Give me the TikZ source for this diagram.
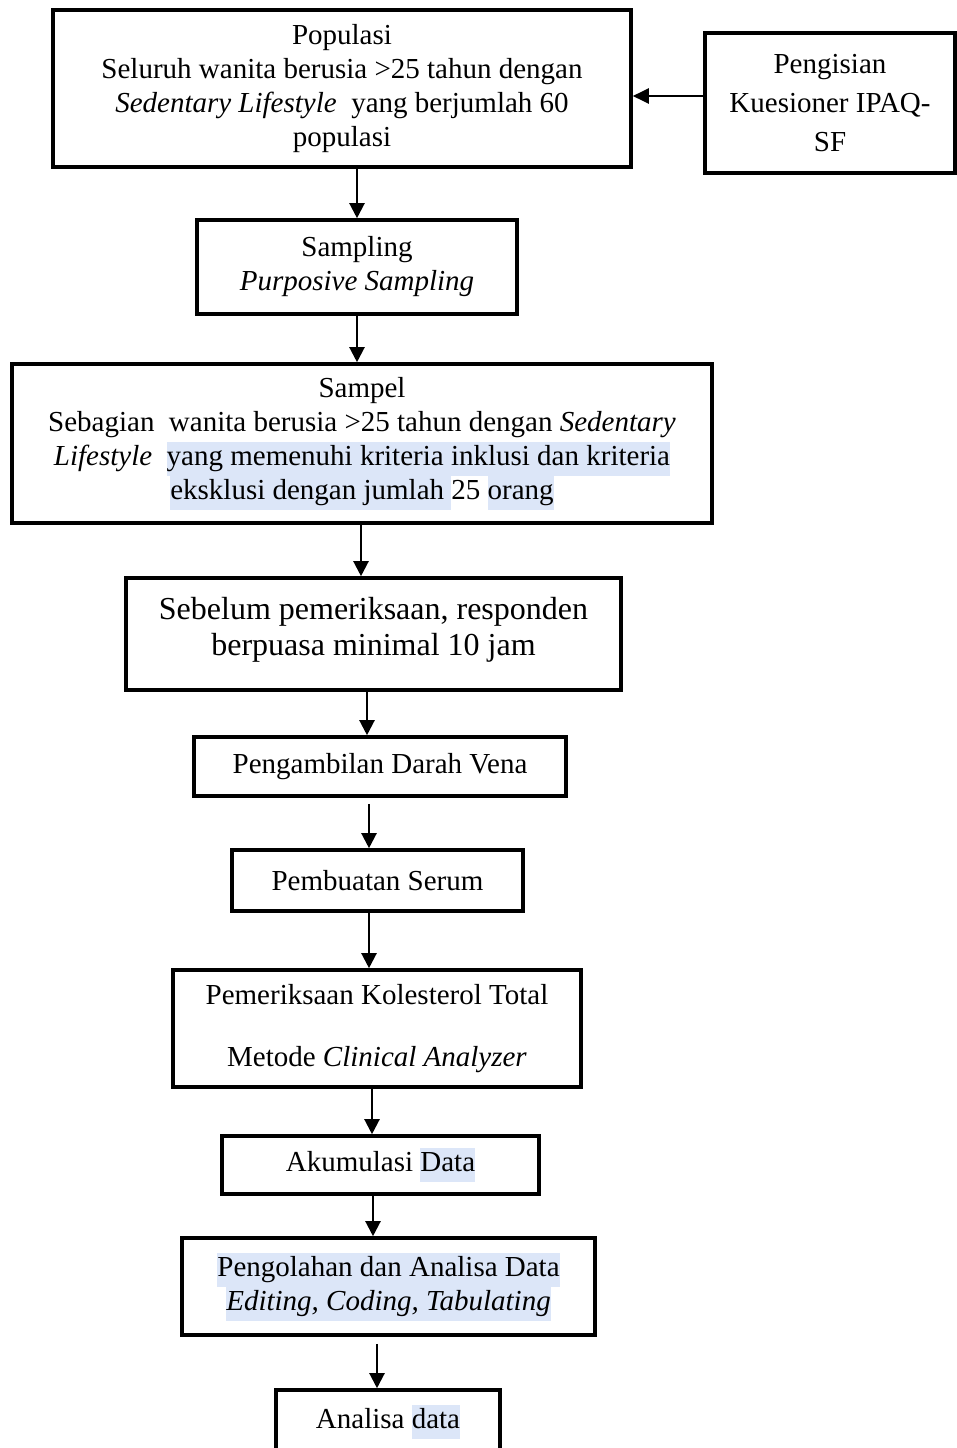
\documentclass[tikz,border=0pt]{standalone}
\usepackage{fontspec}
\setmainfont{Liberation Serif}
\usetikzlibrary{arrows.meta}
\definecolor{hlblue}{RGB}{220,230,248}
\newcommand\hlt[1]{{\setlength{\fboxsep}{0pt}\colorbox{hlblue}{\strut #1}}}
\tikzset{
  box/.style={draw=black, line width=3.6pt, rectangle, align=center, inner sep=0pt,
    font=\fontsize{29}{34}\selectfont},
  flow/.style={draw=black, line width=2.2pt, -{Triangle[width=15pt,length=15pt]}},
  sideflow/.style={draw=black, line width=2.2pt, -{Triangle[width=15pt,length=16pt]}}
}
\begin{document}
\begin{tikzpicture}[x=1pt,y=-1pt]
\useasboundingbox (0,0) rectangle (956,1448);
\fill[white] (0,0) rectangle (956,1448);

\node[box, minimum width=578pt, minimum height=157pt] (pop) at (342,88.5)
  {Populasi\\Seluruh wanita berusia >25 tahun dengan\\\textit{Sedentary Lifestyle}\ \ yang berjumlah 60\\populasi\rule[-6pt]{0pt}{0pt}};
\node[box, minimum width=250pt, minimum height=140pt, font=\fontsize{29}{39}\selectfont] (isi) at (830,103)
  {Pengisian\\Kuesioner IPAQ-\\SF};
\node[box, minimum width=320pt, minimum height=94pt] (samp) at (357,267)
  {Sampling\\\textit{Purposive Sampling}\rule[-6pt]{0pt}{0pt}};
\node[box, minimum width=700pt, minimum height=159pt] (sampel) at (362,443.5)
  {Sampel\\Sebagian\ \ wanita berusia >25 tahun dengan \textit{Sedentary}\\\textit{Lifestyle}\ \ \hlt{yang memenuhi kriteria inklusi dan kriteria}\\\hlt{eksklusi dengan jumlah }25 \hlt{orang}};
\node[box, minimum width=495pt, minimum height=112pt, font=\fontsize{32}{36}\selectfont] (sebelum) at (373.5,634)
  {Sebelum pemeriksaan, responden\\berpuasa minimal 10 jam\rule[-16pt]{0pt}{0pt}};
\node[box, minimum width=372pt, minimum height=59pt] (ambil) at (380,766.5)
  {Pengambilan Darah Vena};
\node[box, minimum width=291pt, minimum height=61pt] (serum) at (377.5,880.5)
  {Pembuatan Serum};
\node[box, minimum width=408pt, minimum height=117pt] (periksa) at (377,1028.5)
  {Pemeriksaan Kolesterol Total\\[28pt]Metode \textit{Clinical Analyzer}\rule[-6pt]{0pt}{0pt}};
\node[box, minimum width=317pt, minimum height=58pt] (akum) at (380.5,1165)
  {Akumulasi \hlt{Data}};
\node[box, minimum width=413pt, minimum height=97pt] (olah) at (388.5,1286.5)
  {\hlt{Pengolahan dan Analisa Data}\\\hlt{\textit{Editing, Coding, Tabulating}}};
\node[box, minimum width=224pt, minimum height=64pt] (analisa) at (388,1422)
  {Analisa \hlt{data}};

\coordinate (xa) at (357,0);
\coordinate (xb) at (361,0);
\coordinate (xc) at (367,0);
\coordinate (xd) at (369,0);
\coordinate (xe) at (372,0);
\coordinate (xf) at (373,0);
\coordinate (xg) at (377,0);
\coordinate (ya) at (0,96);

\draw[sideflow] (isi.west |- ya) -- (pop.east |- ya);
\draw[flow] (pop.south -| xa) -- (samp.north -| xa);
\draw[flow] (samp.south -| xa) -- (sampel.north -| xa);
\draw[flow] (sampel.south -| xb) -- (sebelum.north -| xb);
\draw[flow] (sebelum.south -| xc) -- (ambil.north -| xc);
\draw[flow, shorten <=6pt] (ambil.south -| xd) -- (serum.north -| xd);
\draw[flow] (serum.south -| xd) -- (periksa.north -| xd);
\draw[flow] (periksa.south -| xe) -- (akum.north -| xe);
\draw[flow] (akum.south -| xf) -- (olah.north -| xf);
\draw[flow, shorten <=7pt] (olah.south -| xg) -- (analisa.north -| xg);
\end{tikzpicture}
\end{document}
